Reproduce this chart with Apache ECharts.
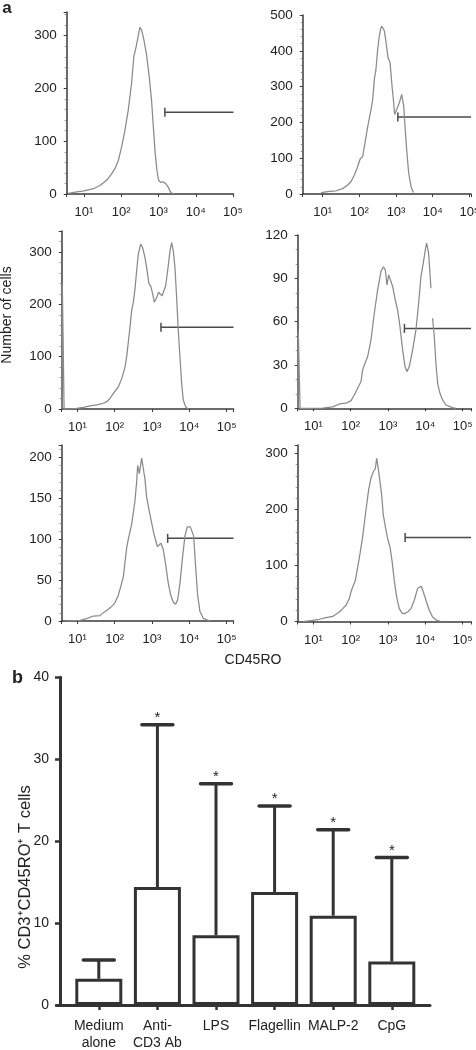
<!DOCTYPE html>
<html><head><meta charset="utf-8">
<script src="https://cdn.jsdelivr.net/npm/echarts@6/dist/echarts.min.js"></script>
<style>html,body{margin:0;padding:0;background:#fff}#c{width:476px;height:1050px}</style>
</head><body><div id="c"></div>
<script>
// ---------- DATA ----------
// Panel 1 (top-left)
const p1X = [3.8, 6.4, 10, 17.8, 26.8, 40.4, 55, 67.6, 83, 102, 125, 154, 189, 218, 247, 279, 316, 351, 405, 477, 562, 649, 735, 814, 902, 1000, 1132, 1334, 1540, 1815, 2096, 2471];
const p1Y = [1, 4, 6, 10, 16, 26, 38, 48, 63, 89, 120, 159, 210, 261, 277, 296, 316, 311, 292, 264, 223, 178, 122, 77, 46, 27, 22, 23, 20, 13, 4, 0];
// Panel 2 (top-right)
const p2X = [9.0, 15.2, 23.1, 35.1, 48, 59.2, 73, 90, 104, 123, 137, 169, 208, 231, 256, 284, 316, 351, 381, 406, 442, 480, 533, 604, 686, 777, 845, 919, 1042, 1231, 1426, 1618, 1758, 1950, 2213, 2563, 2967];
const p2Y = [4, 7, 9, 15, 25, 35, 53, 77, 97, 105, 133, 189, 236, 264, 321, 349, 405, 442, 461, 469, 465, 456, 424, 381, 367, 302, 264, 222, 222, 255, 278, 246, 189, 124, 58, 21, 4];
// Panel 3 (middle-left)
const p3X = [3.85, 3.95, 4.4, 5.2, 9.6, 14.5, 21.8, 33, 49.7, 61, 75, 92, 102, 125, 154, 189, 209, 232, 257, 285, 316, 350, 388, 430, 497, 562, 649, 720, 830, 921, 1042, 1155, 1334, 1508, 1637, 1853, 2096, 2321, 2627, 3033, 3361, 3725, 4128, 4575, 5070, 5620, 6228, 6902, 7980, 9400];
const p3Y = [0, 240, 0, 0, 1, 3, 6, 8, 11, 14, 20, 30, 33, 42, 58, 80, 99, 128, 156, 188, 204, 229, 264, 296, 315, 308, 289, 270, 239, 235, 220, 204, 213, 223, 226, 216, 213, 235, 264, 302, 318, 302, 270, 213, 150, 99, 49, 17, 4, 0];
// Panel 4 (middle-right) – null marks the break in the trace
const p4X = [3.85, 3.95, 4.4, 5.2, 17.8, 33, 50, 75, 102, 125, 154, 189, 209, 232, 285, 350, 430, 528, 649, 750, 848, 940, 1042, 1155, 1334, 1570, 1815, 2096, 2471, 2853, 3228, 3725, 4575, 5620, 6626, 7653, 8830, 10000, 10860, 12280, 13340, 14170, 14900, 15700, 17420, 19280, 21380, 24720, 29110, 35730, 53950, 66260];
const p4Y = [0, 53, 0, 0, 0.2, 1, 3, 3.5, 5.3, 9.2, 13.9, 18.5, 26.6, 30, 35.8, 47.3, 65.8, 82, 94.7, 98, 95.8, 85.5, 92.4, 93.5, 84.3, 75, 68, 56.6, 40.4, 28.9, 25.4, 28.9, 40.4, 54.3, 72.7, 91.2, 100.5, 109.7, 114.3, 107.4, 93.5, 83.1, null, 62.4, 49.7, 31.2, 17.3, 10.4, 5.8, 2.3, 0.5, 0];
// Panel 5 (bottom-left)
const p5X = [4.7, 11.8, 17.8, 26.8, 40.4, 49.7, 67.6, 92, 102, 125, 145, 171, 209, 232, 285, 350, 388, 413, 458, 528, 586, 649, 720, 848, 979, 1130, 1253, 1390, 1570, 1742, 2011, 2321, 2735, 3162, 3725, 4305, 4864, 5620, 6626, 7653, 8830, 9790, 10640, 11780, 13060, 14760, 16710, 19280, 23710, 35730];
const p5Y = [0, 0.8, 2.9, 6.1, 6.6, 10.2, 14.3, 19.7, 22.5, 31.6, 41.8, 54.1, 89, 100, 118, 147, 170, 190, 180, 199, 186, 173, 151, 134, 120, 106, 104, 91, 89, 95, 87, 69, 46, 32, 23, 20.5, 25.8, 46, 79, 104, 115, 117, 115, 117, 104, 67, 32, 11.5, 3.3, 0];
// Panel 6 (bottom-right)
const p6X = [5.2, 9.6, 14.5, 21.8, 33, 40.4, 49.7, 61, 75, 92, 102, 113, 133, 154, 178, 209, 257, 303, 350, 404, 458, 497, 540, 610, 676, 750, 883, 979, 1130, 1279, 1476, 1706, 2011, 2371, 2735, 3361, 4128, 5070, 6228, 7800, 8830, 10420, 12790, 15700, 19280, 26240];
const p6Y = [0, 2, 4, 7, 9, 13, 17, 23, 29, 41, 53, 61, 73, 97, 121, 151, 199, 235, 256, 267, 273, 291, 276, 250, 226, 190, 163, 148, 133, 109, 73, 44, 23, 15, 14, 17, 23, 38, 59, 63, 53, 38, 20, 8, 3, 0];
// Gate markers (start of gate on CD45RO axis, gate height in cell counts)
const gateStart = [1480, 1120, 1740, 2760, 2630, 2880];
const gateLevel = [155, 215, 156, 55.3, 101, 150];
// Y-axis tick steps of each histogram
const yTickStep = [100, 100, 100, 30, 50, 100];

// Panel b: bar chart
const categories = ['Medium\nalone', 'Anti-\nCD3 Ab', 'LPS', 'Flagellin', 'MALP-2', 'CpG'];
const meanValues = [3.2, 14.4, 8.5, 13.8, 10.9, 5.3];
const upperValues = [5.5, 34.2, 27.0, 24.3, 21.4, 18.0];
const significant = [false, true, true, true, true, true];
const barTicks = [0, 10, 20, 30, 40];

// ---------- LAYOUT ----------
const FONT = '"Liberation Sans", Arial, Helvetica, sans-serif';
const INK = '#222';
const AX = '#3a3a3a';
const panels = [
  {x: p1X, y: p1Y, left: 66.7, top: 12,  width: 166.8, height: 182,   xmin: 3.43, xmax: 1.03e5, ymax: 345},
  {x: p2X, y: p2Y, left: 302.7, top: 15, width: 168.3, height: 179,   xmin: 2.84, xmax: 1.11e5, ymax: 500},
  {x: p3X, y: p3Y, left: 61.7, top: 231, width: 171.8, height: 178,   xmin: 3.8,  xmax: 1.53e5, ymax: 340},
  {x: p4X, y: p4Y, left: 297.7, top: 235, width: 173.3, height: 173.3, xmin: 3.8, xmax: 1.68e5, ymax: 120},
  {x: p5X, y: p5Y, left: 61.7, top: 445, width: 171.8, height: 176,   xmin: 3.8,  xmax: 1.53e5, ymax: 215},
  {x: p6X, y: p6Y, left: 297.7, top: 445, width: 173.3, height: 176.5, xmin: 3.8, xmax: 1.68e5, ymax: 315}
];
const SUP = ['\u2070', '\u00B9', '\u00B2', '\u00B3', '\u2074', '\u2075'];

const grid = [], xAxis = [], yAxis = [], series = [];
panels.forEach((p, i) => {
  grid.push({left: p.left, top: p.top, width: p.width, height: p.height, containLabel: false, outerBoundsMode: 'none'});
  xAxis.push({
    type: 'log', logBase: 10, gridIndex: i, min: p.xmin, max: p.xmax,
    axisLine: {show: true, lineStyle: {color: AX, width: 1.5}},
    axisTick: {show: true, length: 3, lineStyle: {color: AX, width: 1}},
    splitLine: {show: false},
    axisLabel: {
      color: INK, fontFamily: FONT, fontSize: 13, margin: 12,
      formatter: v => {
        const l = Math.log10(v), e = Math.round(l);
        return (Math.abs(l - e) < 1e-6 && e >= 1 && e <= 5) ? '10' + SUP[e] : '';
      }
    }
  });
  const step = yTickStep[i];
  yAxis.push({
    type: 'value', gridIndex: i, min: 0, max: p.ymax, interval: step,
    axisLine: {show: true, lineStyle: {color: AX, width: 1.5}},
    axisTick: {show: true, length: 3, lineStyle: {color: AX, width: 1}},
    minorTick: {show: true, splitNumber: step === 30 ? 3 : 5, length: 2, lineStyle: {color: '#777', width: 0.8}},
    splitLine: {show: false},
    axisLabel: {
      color: INK, fontFamily: FONT, fontSize: 13.5, margin: 10, padding: [0, 0, 6, 0],
      formatter: v => (v % step === 0 ? String(v) : '')
    }
  });
  series.push({
    type: 'line', xAxisIndex: i, yAxisIndex: i, showSymbol: false, symbol: 'none',
    connectNulls: false, animation: false, silent: true,
    lineStyle: {color: '#8a8a8a', width: 1.25},
    data: p.x.map((xv, k) => [xv, p.y[k]])
  });
  series.push({
    type: 'custom', xAxisIndex: i, yAxisIndex: i, animation: false, silent: true,
    data: [[gateStart[i], gateLevel[i], p.xmax]],
    renderItem: (params, api) => {
      const a = api.coord([api.value(0), api.value(1)]);
      const b = api.coord([api.value(2), api.value(1)]);
      return {type: 'group', children: [
        {type: 'line', shape: {x1: a[0], y1: a[1], x2: b[0], y2: b[1]}, style: {stroke: '#4a4a4a', lineWidth: 1.5}},
        {type: 'line', shape: {x1: a[0], y1: a[1] - 4.5, x2: a[0], y2: a[1] + 4.5}, style: {stroke: '#4a4a4a', lineWidth: 1.5}}
      ]};
    }
  });
});

// bar chart grid (index 6) and the full-width baseline grid (index 7)
grid.push({left: 69.5, top: 677.3, width: 351.6, height: 327.7, containLabel: false, outerBoundsMode: 'none'});
grid.push({left: 57, top: 677.3, width: 373, height: 327.7, containLabel: false, outerBoundsMode: 'none'});
xAxis.push({
  type: 'category', gridIndex: 6, data: categories,
  axisLine: {show: false},
  axisTick: {show: true, alignWithLabel: true, length: 5, lineStyle: {color: '#333', width: 2.5}},
  axisLabel: {color: INK, fontFamily: FONT, fontSize: 14, lineHeight: 17, margin: 13, interval: 0}
});
yAxis.push({
  type: 'value', gridIndex: 6, min: barTicks[0], max: barTicks[barTicks.length - 1], interval: barTicks[1] - barTicks[0],
  offset: 9.5,
  axisLine: {show: true, lineStyle: {color: '#333', width: 3}},
  axisTick: {show: true, length: 5, lineStyle: {color: '#333', width: 2.5}},
  splitLine: {show: false},
  axisLabel: {color: INK, fontFamily: FONT, fontSize: 14, margin: 11}
});
xAxis.push({type: 'value', gridIndex: 7, min: 0, max: 1,
  axisLine: {show: true, lineStyle: {color: '#333', width: 3}},
  axisTick: {show: false}, axisLabel: {show: false}, splitLine: {show: false}});
yAxis.push({type: 'value', gridIndex: 7, min: 0, max: 1, show: false});

series.push({
  type: 'bar', xAxisIndex: 6, yAxisIndex: 6, barWidth: 47, animation: false, silent: true,
  itemStyle: {color: '#fff', borderColor: '#333', borderWidth: 3},
  data: meanValues
});
series.push({
  type: 'custom', xAxisIndex: 6, yAxisIndex: 6, animation: false, silent: true, z: 3,
  data: categories.map((c, i) => [i, meanValues[i], upperValues[i], significant[i] ? 1 : 0]),
  renderItem: (params, api) => {
    const p0 = api.coord([api.value(0), api.value(1)]);
    const p1 = api.coord([api.value(0), api.value(2)]);
    const half = 15.5;
    const ch = [
      {type: 'line', shape: {x1: p0[0], y1: p0[1], x2: p1[0], y2: p1[1]}, style: {stroke: '#333', lineWidth: 3}},
      {type: 'line', shape: {x1: p1[0] - half, y1: p1[1], x2: p1[0] + half, y2: p1[1]}, style: {stroke: '#333', lineWidth: 3.5, lineCap: 'round'}}
    ];
    if (api.value(3)) {
      ch.push({type: 'text', x: p1[0], y: p1[1] - 7, style: {text: '*', fill: INK, font: '15px ' + FONT, align: 'center', verticalAlign: 'middle', textAlign: 'center', textVerticalAlign: 'middle'}});
    }
    return {type: 'group', children: ch};
  }
});

const txt = (x, y, text, font, rot) => ({
  type: 'text', x: x, y: y, rotation: rot || 0, silent: true,
  style: {text: text, font: font, fill: INK, align: 'center', verticalAlign: 'middle', textAlign: 'center', textVerticalAlign: 'middle'}
});

const option = {
  backgroundColor: '#fff',
  animation: false,
  grid: grid, xAxis: xAxis, yAxis: yAxis, series: series,
  graphic: [
    txt(7, 8, 'a', 'bold 17px ' + FONT),
    txt(17.5, 678, 'b', 'bold 18px ' + FONT),
    txt(7.5, 315, 'Number of cells', '14px ' + FONT, Math.PI / 2),
    txt(253, 660, 'CD45RO', '14px ' + FONT),
    txt(25, 877, '% CD3\u207ACD45RO\u207A T cells', '16.5px ' + FONT, Math.PI / 2)
  ]
};
const chart = echarts.init(document.getElementById('c'), null, {renderer: 'canvas', width: 476, height: 1050});
chart.setOption(option);
</script>
</body></html>
